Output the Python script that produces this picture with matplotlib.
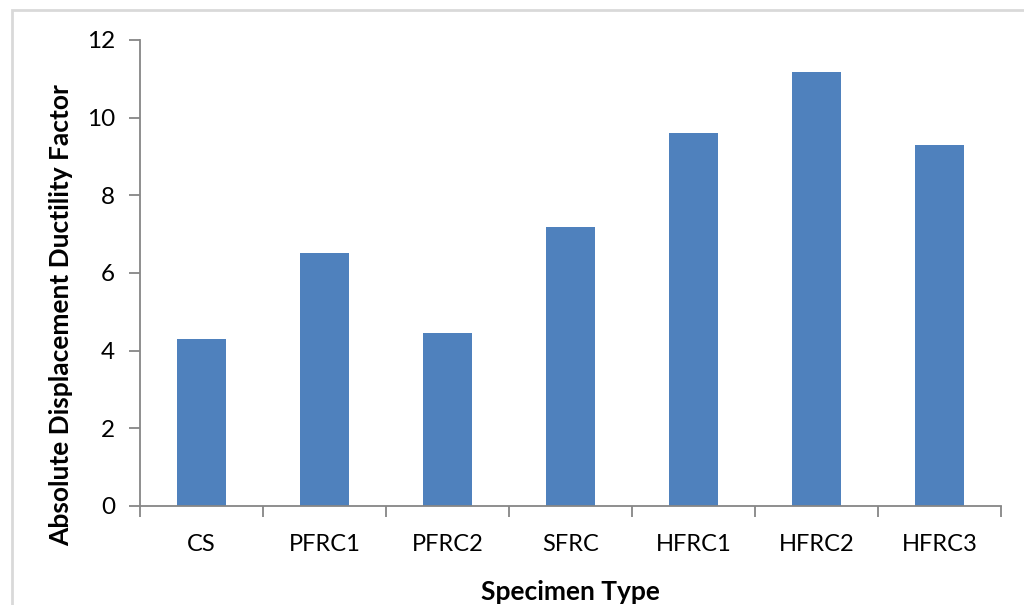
import matplotlib
matplotlib.use("Agg")
import matplotlib.pyplot as plt
from matplotlib.patches import Rectangle
import numpy as np

categories = ["CS", "PFRC1", "PFRC2", "SFRC", "HFRC1", "HFRC2", "HFRC3"]
values = [4.3, 6.52, 4.46, 7.19, 9.6, 11.18, 9.3]
yticks = [0, 2, 4, 6, 8, 10, 12]

plt.rcParams['font.family'] = ['Lato', 'DejaVu Sans']

fig = plt.figure(figsize=(10.24, 6.05), dpi=100)
fig.patches.append(Rectangle((12/1024, -0.1), 1.2, 1 - 10/605 + 0.1, transform=fig.transFigure,
                             fill=False, edgecolor="#D9D9D9", linewidth=2))
ax = fig.add_axes([140/1024, 1 - 506/605, (1001 - 140)/1024, (506 - 40)/605])

x = np.arange(len(categories))
ax.bar(x, values, width=0.4, color="#4F81BD", zorder=2)

ax.set_xlim(-0.5, len(categories) - 0.5)
ax.set_ylim(0, 12)
ax.set_yticks(yticks)
ax.set_yticklabels([str(t) for t in yticks], fontsize=17.5)
ax.set_xticks(x)
ax.set_xticklabels(categories, fontsize=17)
ax.tick_params(axis='x', length=0, pad=20)
ax.set_xticks(np.arange(len(categories) + 1) - 0.5, minor=True)
ax.tick_params(axis='x', which='minor', length=8, color="#868686", width=1.3)
ax.tick_params(axis='y', length=8, color="#868686", width=1.3, pad=10)

for s in ["top", "right"]:
    ax.spines[s].set_visible(False)
for s in ["left", "bottom"]:
    ax.spines[s].set_color("#868686")
    ax.spines[s].set_linewidth(1.3)

ax.set_xlabel("Specimen Type", fontsize=19, fontweight="bold", labelpad=18)
ax.set_ylabel("Absolute Displacement Ductility Factor", fontsize=19, fontweight="bold")
ax.yaxis.set_label_coords(-0.078, 0.41)

fig.savefig("out.png", dpi=100)
